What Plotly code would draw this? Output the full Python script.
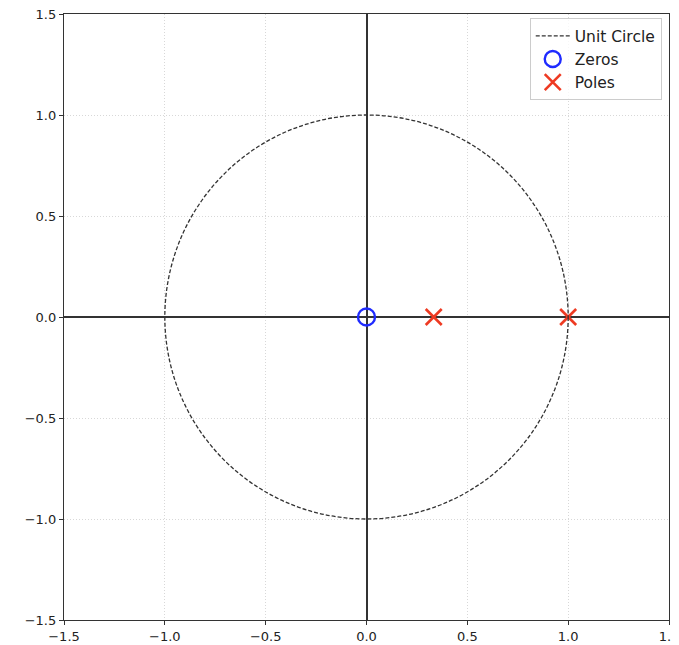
import plotly.graph_objects as go

zeros_re = [0.0]
zeros_im = [0.0]
poles_re = [1/3, 1.0]
poles_im = [0.0, 0.0]
unit_radius = 1.0
tick_vals = [-1.5, -1.0, -0.5, 0.0, 0.5, 1.0, 1.5]

FONT = "DejaVu Sans"
fig = go.Figure()

fig.add_trace(go.Scatter(x=[None], y=[None], mode="lines", name="Unit Circle",
                         line=dict(color="#333333", dash="4px,2px", width=1.3)))
fig.add_trace(go.Scatter(x=zeros_re, y=zeros_im, mode="markers", name="Zeros",
                         marker=dict(symbol="circle-open", size=17, color="#1f2bff",
                                     line=dict(width=2.4, color="#1f2bff"))))
fig.add_trace(go.Scatter(x=poles_re, y=poles_im, mode="markers", name="Poles",
                         marker=dict(symbol="x-thin-open", size=16, color="#ee3a22",
                                     line=dict(width=2.6, color="#ee3a22"))))

fig.add_shape(type="circle", xref="x", yref="y",
              x0=-unit_radius, x1=unit_radius, y0=-unit_radius, y1=unit_radius,
              line=dict(color="#333333", dash="4px,2px", width=1.3), layer="above")

axis = dict(range=[-1.5, 1.5], tickvals=tick_vals, tickformat=".1f",
            automargin=False, ticklabeloverflow="allow",
            showline=True, mirror=True, linecolor="#333333", linewidth=1.3,
            ticks="outside", ticklen=4, tickcolor="#333333",
            showgrid=True, gridcolor="#d8d8d8", griddash="1px,2px", gridwidth=1,
            zeroline=True, zerolinecolor="#333333", zerolinewidth=1.5,
            tickfont=dict(family=FONT, size=13, color="#222222"))

fig.update_layout(
    width=671, height=637,
    margin=dict(l=56, r=10, t=6, b=25),
    plot_bgcolor="white", paper_bgcolor="white",
    xaxis=axis, yaxis=axis,
    showlegend=True,
    legend=dict(x=0.988, y=0.993, xanchor="right", yanchor="top",
                bgcolor="rgba(255,255,255,0.8)", bordercolor="#cccccc", borderwidth=1,
                font=dict(family=FONT, size=15.5, color="#222222"),
                tracegroupgap=0, itemwidth=34),
    font=dict(family=FONT),
)

fig.write_html("out.html")
